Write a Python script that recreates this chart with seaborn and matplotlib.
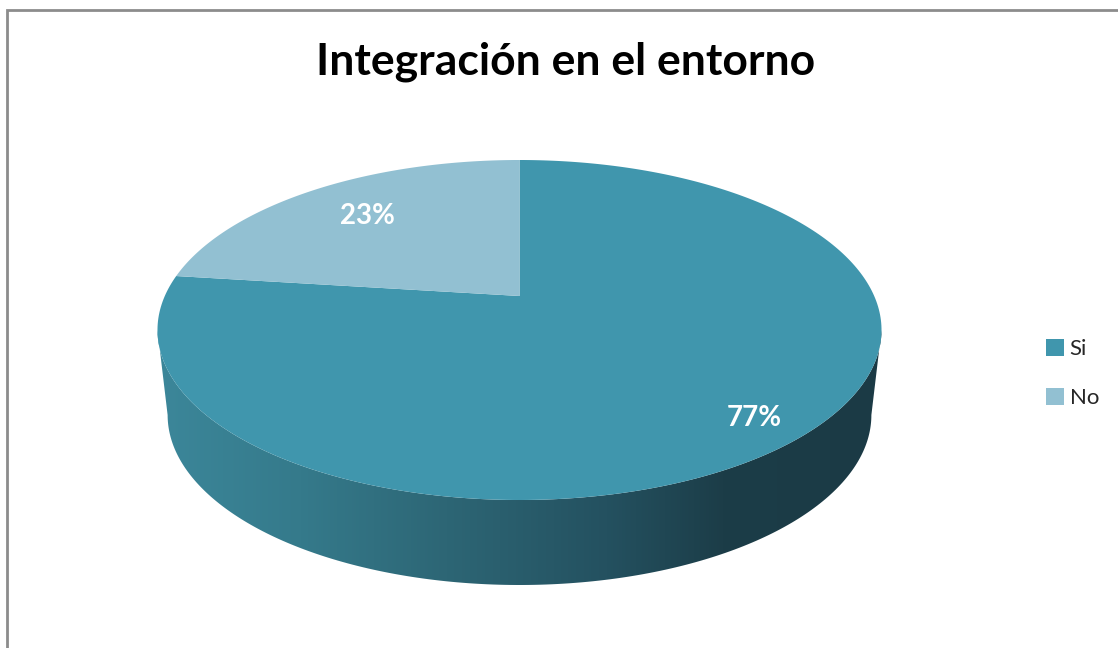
import numpy as np
import matplotlib.pyplot as plt
import seaborn as sns
from matplotlib.patches import Polygon, Rectangle, Patch
from matplotlib.colors import LinearSegmentedColormap

# data
categories = ["Si", "No"]
values = [77, 23]
title = "Integración en el entorno"

# style
top_colors = ["#4096ad", "#92c0d2"]
side_stops = [(0.0, "#3c879a"), (0.2, "#357a8b"), (0.4, "#2d6675"),
              (0.62, "#245160"), (0.78, "#1c3d48"), (1.0, "#1b3a45")]
label_radius = [0.87, 0.72]

sns.set_theme(style="white")
plt.rcParams["font.family"] = ["Lato", "DejaVu Sans"]

fig = plt.figure(figsize=(11.18, 6.48), dpi=100)
ax = fig.add_axes([0, 0, 1, 1])
ax.set_xlim(0, 1118)
ax.set_ylim(648, 0)
ax.axis("off")

# pie geometry (pixels), simple perspective: p shrinks the far side
cx, cy, R, H, p = 519.5, 296.0, 354.7, 163.2, 0.2
depth, bottom_shrink = 85.0, 0.972


def project(u, v, dy=0.0, sx=1.0):
    s = 1.0 / (1.0 + p * v)
    return cx + sx * R * u * s, cy - H * v * s + dy


# slices go clockwise from 12 o'clock
fracs = np.array(values, dtype=float) / sum(values)
starts = np.pi / 2 - 2 * np.pi * np.concatenate([[0], np.cumsum(fracs)[:-1]])
ends = starts - 2 * np.pi * fracs

# side wall, only the part facing the viewer
sil = np.arcsin(-p)  # silhouette angle where the outline is widest
front_lo, front_hi = -np.pi - sil, sil
cmap = LinearSegmentedColormap.from_list("side", side_stops)
for st, en in zip(starts, ends):
    lo, hi = max(en, front_lo), min(st, front_hi)
    if hi <= lo:
        continue
    t = np.linspace(hi, lo, 200)
    tx, ty = project(np.cos(t), np.sin(t))
    bx, by = project(np.cos(t), np.sin(t), depth, bottom_shrink)
    poly = Polygon(np.column_stack([np.r_[tx, bx[::-1]], np.r_[ty, by[::-1]]]),
                   closed=True, facecolor="none", edgecolor="none")
    ax.add_patch(poly)
    grad = np.linspace(0, 1, 256)[None, :]
    im = ax.imshow(grad, cmap=cmap, aspect="auto",
                   extent=[cx - R * 1.03, cx + R * 1.03, 600, 280], zorder=1)
    im.set_clip_path(poly)

# top face
for st, en, col in zip(starts, ends, top_colors):
    t = np.linspace(st, en, 300)
    x, y = project(np.cos(t), np.sin(t))
    ax.add_patch(Polygon(np.column_stack([np.r_[cx, x], np.r_[cy, y]]),
                         closed=True, facecolor=col, edgecolor="none",
                         antialiased=True, zorder=2))

# percentage labels
for st, en, v, k in zip(starts, ends, values, label_radius):
    mid = (st + en) / 2
    lx, ly = project(k * np.cos(mid), k * np.sin(mid))
    ax.text(lx, ly, f"{v}%", color="white", fontsize=20, fontweight="bold",
            ha="center", va="center", zorder=3)

ax.text(566, 62, title, fontsize=32, fontweight="bold", color="black",
        ha="center", va="center")

handles = [Patch(facecolor=c, edgecolor="none") for c in top_colors]
ax.legend(handles, categories, loc="center left", bbox_to_anchor=(0.926, 0.424),
          frameon=False, fontsize=16, handlelength=0.8, handleheight=0.8,
          handletextpad=0.25, labelspacing=1.3, borderpad=0)

# chart border (only left and top visible in the crop)
fig.patches.append(Rectangle((7 / 1118, -0.1), 1.2, (648 - 10) / 648 + 0.1,
                             transform=fig.transFigure, fill=False,
                             edgecolor="#8c8c8c", linewidth=2))

fig.savefig("out.png", dpi=100)
